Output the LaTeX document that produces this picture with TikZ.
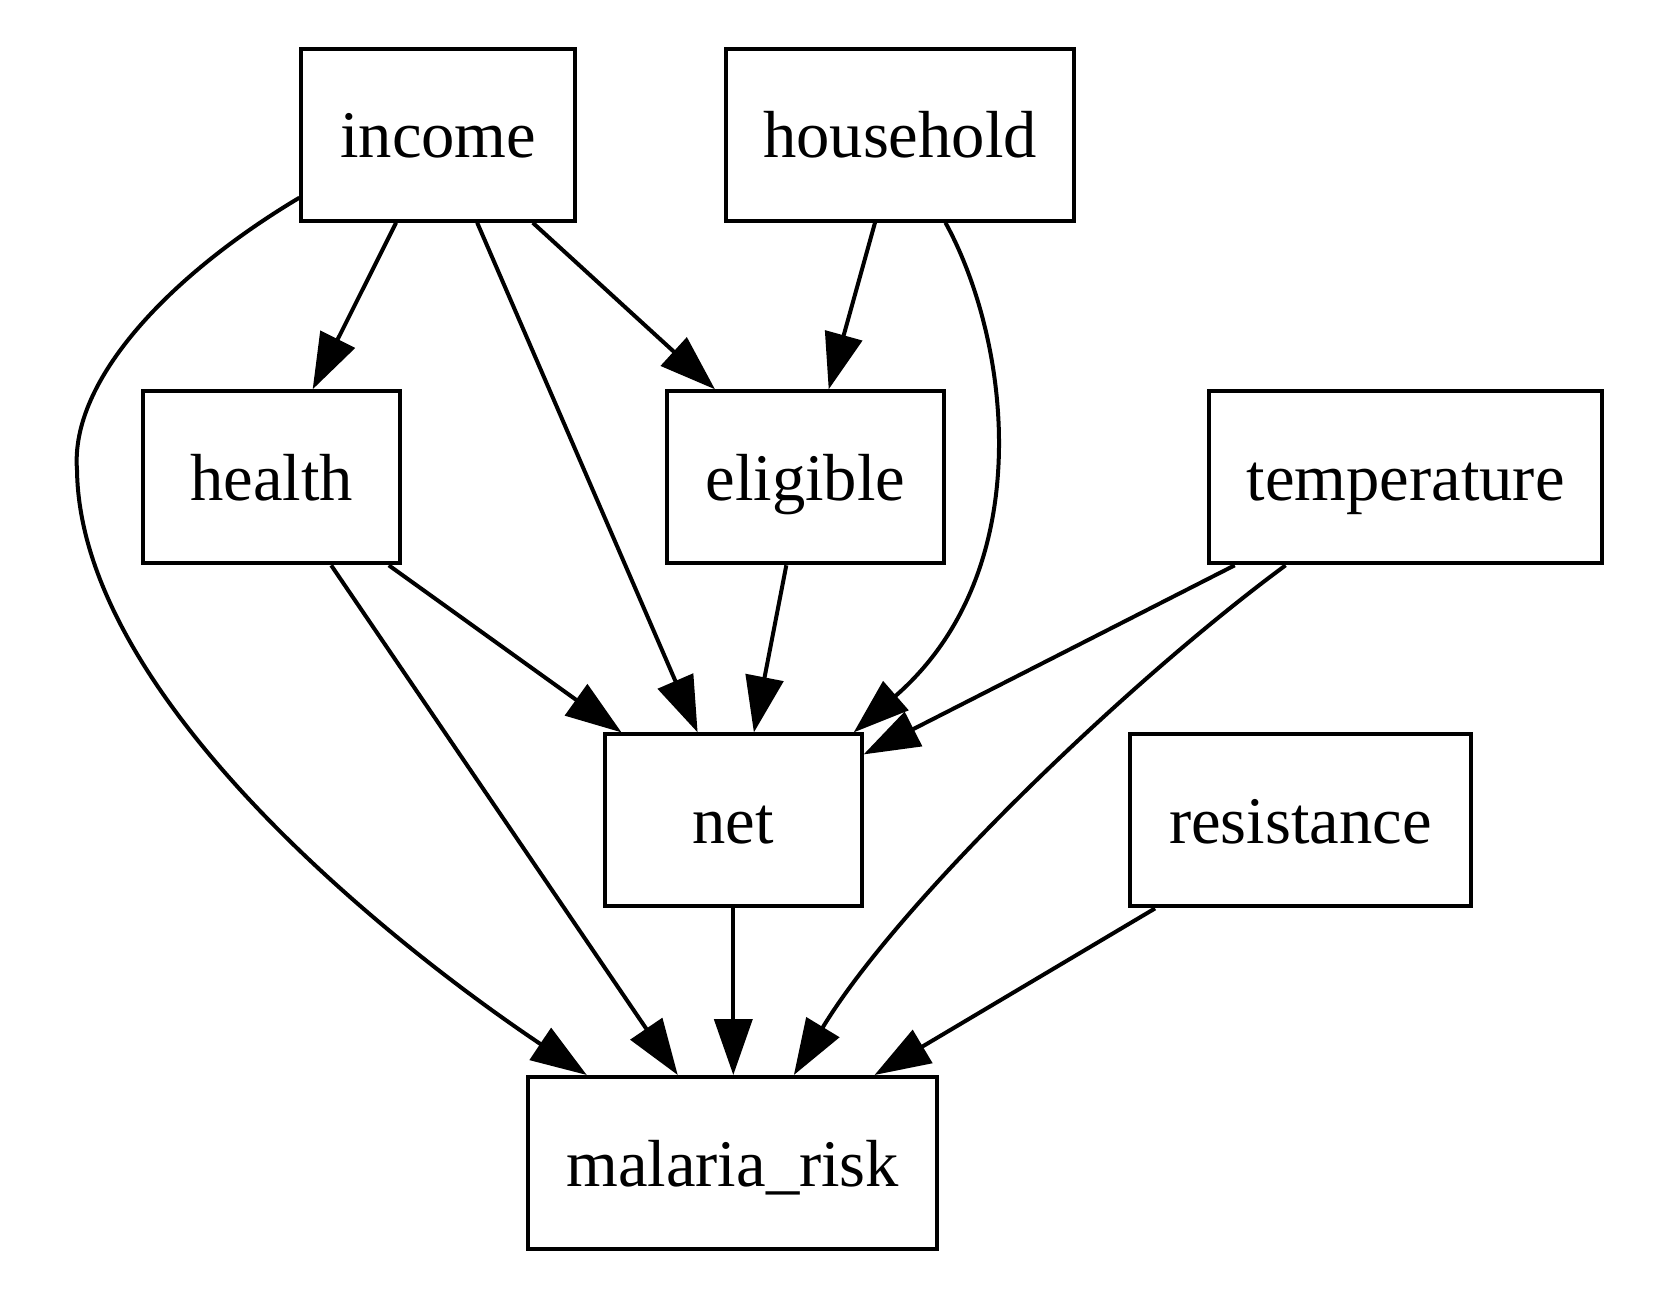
\documentclass[tikz,border=0pt]{standalone}
\usepackage{fontspec}
\setmainfont{Liberation Serif}
\usetikzlibrary{arrows.meta,calc}
\begin{document}
\begin{tikzpicture}[x=0.5pt,y=-0.5pt,
  box/.style={draw,line width=2pt,minimum width=#1,minimum height=86pt,inner sep=0pt,
    text height=23pt,text depth=0pt,font=\fontsize{33.3}{40}\selectfont},
  edge/.style={line width=2pt,-{Triangle[length=28pt,width=19pt]}}]
\useasboundingbox (0,0) rectangle (1676,1294);
\node[box=136.9pt] (income) at (438.3,134.7) {income};
\node[box=174.2pt] (household) at (900,134.7) {household};
\node[box=128.3pt] (health) at (271.5,477.3) {health};
\node[box=138.4pt] (eligible) at (805.4,477.3) {eligible};
\node[box=196.7pt] (temperature) at (1405.6,477.3) {temperature};
\node[box=128.3pt] (net) at (733.3,820.4) {net};
\node[box=170.5pt] (resistance) at (1300.3,820.4) {resistance};
\node[box=204.7pt] (malaria) at (732.7,1163) {malaria\_risk};
% income
\draw[edge] ($(income.south west)!0.348!(income.south east)$) -- ($(health.north west)!0.658!(health.north east)$);
\draw[edge] ($(income.south west)!0.640!(income.south east)$) -- ($(net.north west)!0.363!(net.north east)$);
\draw[edge] ($(income.south west)!0.840!(income.south east)$) -- ($(eligible.north west)!0.178!(eligible.north east)$);
\coordinate (bendL) at (77,470);
\draw[edge] ($(income.west)+(0,63)$) .. controls (170,275) and (70,380) .. (bendL)
  .. controls (80,700) and (400,950) .. ($(malaria.north west)!0.147!(malaria.north east)$);
% household
\draw[edge] ($(household.south west)!0.429!(household.south east)$) -- ($(eligible.north west)!0.583!(eligible.north east)$);
\draw[edge] ($(household.south west)!0.629!(household.south east)$) .. controls (1010,340) and (1040,570) .. ($(net.north west)!0.962!(net.north east)$);
% health
\draw[edge] ($(health.south west)!0.950!(health.south east)$) -- ($(net.north west)!0.071!(net.north east)$);
\draw[edge] ($(health.south west)!0.729!(health.south east)$) -- ($(malaria.north west)!0.367!(malaria.north east)$);
% eligible
\draw[edge] ($(eligible.south west)!0.432!(eligible.south east)$) -- ($(net.north west)!0.579!(net.north east)$);
% temperature
\draw[edge] ($(temperature.south west)!0.070!(temperature.south east)$) -- ($(net.north east)+(0,22)$);
\draw[edge] ($(temperature.south west)!0.198!(temperature.south east)$) .. controls (1130,680) and (900,900) .. ($(malaria.north west)!0.648!(malaria.north east)$);
% net
\draw[edge] (net.south) -- (net.south |- malaria.north);
% resistance
\draw[edge] ($(resistance.south west)!0.079!(resistance.south east)$) -- ($(malaria.north west)!0.843!(malaria.north east)$);
\end{tikzpicture}
\end{document}
